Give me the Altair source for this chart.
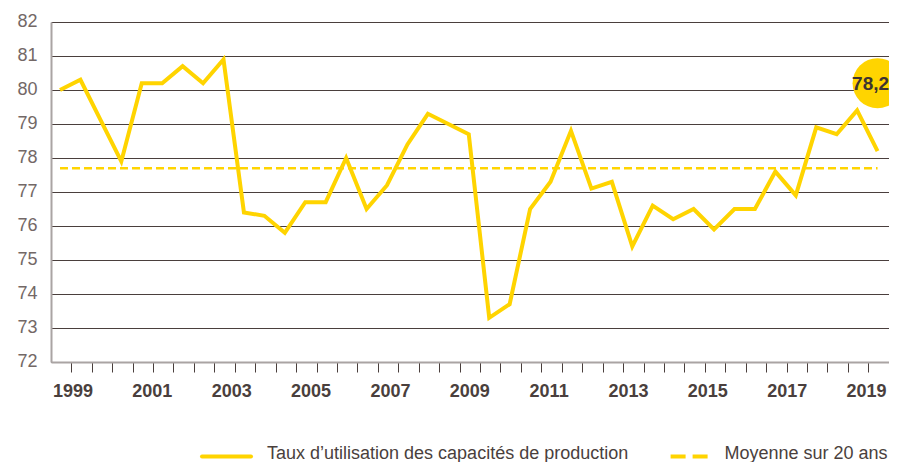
import altair as alt
import pandas as pd

# ---- data ----
values = [80.0, 80.3, 79.1, 77.9, 80.2, 80.2, 80.7, 80.2, 80.9, 76.4,
          76.3, 75.8, 76.7, 76.7, 78.0, 76.5, 77.2, 78.4, 79.3, 79.0,
          78.7, 73.3, 73.7, 76.5, 77.3, 78.8, 77.1, 77.3, 75.4, 76.6,
          76.2, 76.5, 75.9, 76.5, 76.5, 77.6, 76.9, 78.9, 78.7, 79.4, 78.2]
average = 77.7
year_labels = ["1999", "2001", "2003", "2005", "2007", "2009",
               "2011", "2013", "2015", "2017", "2019"]
y_ticks = [72, 73, 74, 75, 76, 77, 78, 79, 80, 81, 82]
series_names = ["Taux d’utilisation des capacités de production", "Moyenne sur 20 ans"]

YEL = "#FFD400"
DARK = "#4a3f3d"
GRAY = "#aaa4a3"
LABEL_GRAY = "#736866"

W, H = 838, 340

df = pd.DataFrame({"t": list(range(len(values))), "v": values})
half_year_ticks = [k + 0.55 for k in range(len(values))]
lab_df = pd.DataFrame({
    "label": year_labels,
    "t": [0.636 + (int(y) - 1999) * 1.9413 for y in year_labels],
})
avg_df = pd.DataFrame({"t": [0], "t1": [len(values) - 1], "v": [average]})
last_label = f"{values[-1]:.1f}".replace(".", ",")
bub_df = pd.DataFrame({"t": [len(values) - 1], "v": [values[-1] + 2.0], "label": [last_label]})
one = pd.DataFrame({"a": [0]})

x_scale = alt.Scale(domain=[-0.44, 40.56], nice=False, zero=False)
y_scale = alt.Scale(domain=[72, 82], nice=False, zero=False)

x_axis = alt.Axis(
    values=half_year_ticks, labels=False, grid=False, ticks=True, tickSize=10,
    tickColor=DARK, tickWidth=1, domainColor=GRAY, domainWidth=2, title=None,
    zindex=1, orient="bottom")
y_axis = alt.Axis(
    values=y_ticks, grid=True, gridColor=DARK, gridWidth=1, ticks=False,
    labelFontSize=18, labelColor=LABEL_GRAY, labelPadding=14, labelOffset=-1,
    labelOverlap=False, domainColor=GRAY, domainWidth=2, title=None, zindex=0)

X = alt.X("t:Q", scale=x_scale, axis=x_axis)
Y = alt.Y("v:Q", scale=y_scale, axis=y_axis)

line = alt.Chart(df).mark_line(color=YEL, strokeWidth=4, strokeJoin="miter").encode(x=X, y=Y)

avg_rule = alt.Chart(avg_df).mark_rule(color=YEL, strokeWidth=2.5, strokeDash=[8, 4]).encode(
    x=X, x2="t1:Q", y=Y)

year_text = alt.Chart(lab_df).mark_text(
    fontSize=18, fontWeight="bold", color=DARK, baseline="alphabetic", align="center"
).encode(x=X, y=alt.value(374.5), text="label:N")

bubble = alt.Chart(bub_df).mark_circle(color=YEL, opacity=1, size=2500).encode(x=X, y=Y)
bubble_text = alt.Chart(bub_df).mark_text(
    fontSize=19, fontWeight="bold", color="#3d3331", baseline="middle", align="center",
    dy=1, dx=-7
).encode(x=X, y=Y, text="label:N")

leg_line = alt.Chart(one).mark_rule(color=YEL, strokeWidth=4, strokeCap="round").encode(
    x=alt.value(151), x2=alt.value(200), y=alt.value(434.5))
leg_text1 = alt.Chart(one).mark_text(
    fontSize=18, color=DARK, align="left", baseline="alphabetic", text=series_names[0]
).encode(x=alt.value(216), y=alt.value(436.5))
leg_dash = alt.Chart(one).mark_rule(color=YEL, strokeWidth=4, strokeDash=[15, 7]).encode(
    x=alt.value(619.6), x2=alt.value(656.6), y=alt.value(434.5))
leg_text2 = alt.Chart(one).mark_text(
    fontSize=18, color=DARK, align="left", baseline="alphabetic", text=series_names[1]
).encode(x=alt.value(673.5), y=alt.value(436.5))

chart = alt.layer(
    line, avg_rule, year_text, bubble, bubble_text,
    leg_line, leg_text1, leg_dash, leg_text2
).properties(
    width=W, height=H,
    autosize=alt.AutoSizeParams(type="none"),
    padding={"left": 43, "top": 14, "right": 0, "bottom": 100},
).configure(font="Liberation Sans").configure_view(stroke=None)

chart.save("out.html", embed_options={"renderer": "svg", "actions": False})
